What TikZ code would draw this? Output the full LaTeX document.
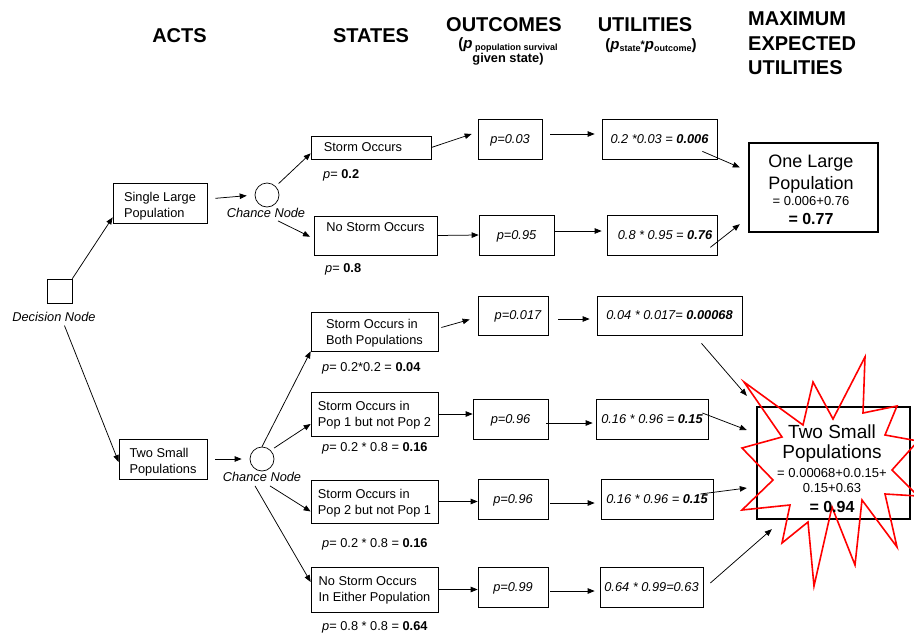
\documentclass[tikz,border=0pt]{standalone}
\usepackage{fontspec}
\setmainfont{Liberation Sans}
\usetikzlibrary{arrows.meta}

\tikzset{
  box/.style={draw, line width=0.7pt, inner sep=0pt, align=left, text depth=0pt, font=\fontsize{12.8}{16}\selectfont},
  pbox/.style={draw, line width=0.7pt, inner sep=0pt, text depth=0pt, font=\fontsize{12.8}{16}\selectfont\itshape},
  chance/.style={draw, circle, line width=0.7pt, minimum size=24pt, inner sep=0pt},
  lbl/.style={inner sep=0pt, font=\fontsize{12.8}{16}\selectfont},
  itlbl/.style={inner sep=0pt, font=\fontsize{12.8}{16}\selectfont\itshape},
  hd/.style={inner sep=0pt, font=\fontsize{20}{24.5}\selectfont\bfseries},
  hdsub/.style={inner sep=0pt, align=center, font=\fontsize{15}{13}\selectfont\bfseries},
  meu/.style={draw, line width=2.4pt, inner sep=0pt},
  meutxt/.style={inner sep=0pt, align=center},
  arr/.style={-{Triangle[length=7pt,width=5.5pt]}, line width=0.75pt},
  burst/.style={draw=red, line width=1.6pt, line join=miter},
}

\begin{document}
\begin{tikzpicture}[x=1pt,y=-1pt]
\useasboundingbox (0,0) rectangle (914,635);

	% column heads
	\node[hd] (acts) at (179.5,35.5) {ACTS};
	\node[hd] (states) at (371,35.5) {STATES};
	\node[hd] (outc) at (504,24.5) {OUTCOMES};
	\node[hdsub, anchor=north] (outcsub) at (508,37) {(\textit{p}\,\raisebox{-2.5pt}{\fontsize{9}{9}\selectfont population survival}\\{\fontsize{12.8}{13}\selectfont given state)}};
	\node[hd] (util) at (645,24.5) {UTILITIES};
	\node[hdsub, anchor=north] (utilsub) at (651,38) {(\textit{p}\raisebox{-2.5pt}{\fontsize{9}{9}\selectfont state}\raisebox{1pt}{\fontsize{11}{11}\selectfont*}\textit{p}\raisebox{-2.5pt}{\fontsize{9}{9}\selectfont outcome})};
	\node[hd, align=left, anchor=north west] (meuhd) at (748,12) {MAXIMUM\\EXPECTED\\UTILITIES};

	% decision and acts
	\node[box, minimum width=25pt, minimum height=24pt] (dec) at (59.5,291) {};
	\node[itlbl] (declbl) at (54,317) {Decision Node};
	\node[box, minimum width=94pt, minimum height=40pt] (single) at (160,203) {\rule{0pt}{13pt}Single Large\\Population};
	\node[box, minimum width=88pt, minimum height=40pt] (two) at (163,459) {\rule{0pt}{13pt}Two Small\\Populations};

	\node[chance] (c1) at (267,195) {};
	\node[itlbl] (c1lbl) at (266,213) {Chance Node};
	\node[chance] (c2) at (262,459) {};
	\node[itlbl] (c2lbl) at (262,477) {Chance Node};

	% states
	\node[pbox, font=\fontsize{12.8}{16}\selectfont, minimum width=120pt, minimum height=23pt] (s1) at (371,147.5) {Storm Occurs\hspace*{16pt}\mbox{}};
	\node[lbl, anchor=base west] (s1p) at (323,178) {\textit{p}= \textbf{0.2}};
	\node[box, minimum width=123pt, minimum height=39pt] (s2) at (375.5,235.5) {No Storm Occurs\\\mbox{}};
	\node[lbl, anchor=base west] (s2p) at (325,272) {\textit{p}= \textbf{0.8}};
	\node[box, minimum width=127pt, minimum height=39pt] (s3) at (374.5,331.5) {Storm Occurs in\\Both Populations};
	\node[lbl, anchor=base west] (s3p) at (322,371) {\textit{p}= 0.2*0.2 = \textbf{0.04}};
	\node[box, minimum width=127pt, minimum height=44pt] (s4) at (374.5,414) {Storm Occurs in\\Pop 1 but not Pop 2};
	\node[lbl, anchor=base west] (s4p) at (322,451) {\textit{p}= 0.2 * 0.8 = \textbf{0.16}};
	\node[box, minimum width=127pt, minimum height=43pt] (s5) at (374.5,501.5) {Storm Occurs in\\Pop 2 but not Pop 1};
	\node[lbl, anchor=base west] (s5p) at (322,547) {\textit{p}= 0.2 * 0.8 = \textbf{0.16}};
	\node[box, minimum width=127pt, minimum height=45pt] (s6) at (374.5,589.5) {No Storm Occurs\\In Either Population};
	\node[lbl, anchor=base west] (s6p) at (322,630) {\textit{p}= 0.8 * 0.8 = \textbf{0.64}};

	% outcomes
	\node[pbox, minimum width=64pt, minimum height=40pt] (o1) at (510,139) {p=0.03};
	\node[pbox, minimum width=75pt, minimum height=40pt] (o2) at (516.5,235) {p=0.95};
	\node[pbox, minimum width=70pt, minimum height=39pt] (o3) at (513,315.5) {\hspace{10pt}p=0.017};
	\node[pbox, minimum width=75pt, minimum height=40pt] (o4) at (510.5,419) {p=0.96};
	\node[pbox, minimum width=70pt, minimum height=40pt] (o5) at (513,499) {p=0.96};
	\node[pbox, minimum width=70pt, minimum height=40pt] (o6) at (513,587) {p=0.99};

	% utilities
	\node[pbox, minimum width=115pt, minimum height=40pt] (u1) at (659.5,139) {0.2 *0.03 = \textbf{0.006}};
	\node[pbox, minimum width=110pt, minimum height=40pt] (u2) at (662,235) {\hspace{6pt}0.8 * 0.95 = \textbf{0.76}};
	\node[pbox, minimum width=145pt, minimum height=39pt] (u3) at (669.5,315.5) {0.04 * 0.017= \textbf{0.00068}};
	\node[pbox, minimum width=112pt, minimum height=40pt] (u4) at (652,419) {0.16 * 0.96 = \textbf{0.15}};
	\node[pbox, minimum width=112pt, minimum height=40pt] (u5) at (657,499) {0.16 * 0.96 = \textbf{0.15}};
	\node[pbox, minimum width=103pt, minimum height=40pt] (u6) at (651.5,587) {0.64 * 0.99=0.63};

	% maximum expected utilities
	\node[meu, minimum width=129pt, minimum height=89pt] (meu1) at (813.5,187.5) {};
	\node[meutxt, anchor=north, font=\fontsize{18}{22.5}\selectfont] (meu1txt) at (811,154.5) {One Large\\Population\\[-6.5pt]{\fontsize{13}{15}\selectfont = 0.006+0.76}\\[-3.5pt]{\fontsize{16}{18}\selectfont\bfseries = 0.77}};
	\node[meu, minimum width=153pt, minimum height=112pt] (meu2) at (833.5,463) {};
	\begin{scope}
		\clip (0,0) rectangle (914,635);
		\draw[burst] (744,382) -- (803,425) -- (813,382) -- (833,419) -- (865,357) -- (863,413)
			-- (897,406) -- (885,435) -- (918,441) -- (892,470) -- (918,496) -- (885,494)
			-- (897,547) -- (862,500) -- (855,565) -- (832,507) -- (814,586) -- (808,522)
			-- (782,543) -- (790,505) -- (742,510) -- (773,480) -- (742,448) -- (782,437) -- cycle;
	\end{scope}
	\node[meutxt, anchor=north, font=\fontsize{19}{20}\selectfont] (meu2txt) at (832,425) {Two Small\\Populations\\[-1pt]{\fontsize{13}{15}\selectfont = 0.00068+0.0.15+}\\[-5pt]{\fontsize{13}{15}\selectfont 0.15+0.63}\\{\fontsize{16}{18}\selectfont\bfseries = 0.94}};

	% acts and chance branches
	\draw[arr] (dec.north east) to ([yshift=6pt]single.south west);
	\draw[arr, shorten <=4pt] ([xshift=9pt]declbl.south) to ([yshift=-3pt]two.west);
	\draw[arr, shorten <=8pt, shorten >=8pt] ([yshift=4pt]single.east) to (c1.west);
	\draw[arr, shorten <=8pt, shorten >=8pt] (two.east) to (c2.west);
	\draw[arr, shorten <=4pt] (c1.north east) to ([yshift=6pt]s1.south west);
	\draw[arr, shorten >=4pt] ([xshift=12pt,yshift=-3pt]c1lbl.south) to ([yshift=-3pt]s2.west);
	\draw[arr] (c2.north) to (s3.south west);
	\draw[arr, shorten <=4pt] (c2.north east) to ([yshift=-10pt]s4.west);
	\draw[arr] ([xshift=8pt,yshift=-4pt]c2lbl.south) to ([yshift=-10pt]s5.west);
	\draw[arr] ([xshift=-7pt,yshift=-4pt]c2lbl.south) to ([yshift=7.5pt]s6.west);

	% states to outcomes to utilities
	\draw[arr] (s1.east) to ([xshift=-6pt,yshift=5pt]o1.west);
	\draw[arr] (s2.east) to (o2.west);
	\draw[arr, shorten <=8pt, shorten >=7pt] ([yshift=5pt]o1.east) to ([yshift=5pt]u1.west);
	\draw[arr, shorten >=5pt] ([yshift=4pt]o2.east) to ([yshift=4pt]u2.west);
	\draw[arr] ([xshift=3pt,yshift=4pt]s3.east) to ([xshift=-8pt,yshift=-4pt]o3.west);
	\draw[arr, shorten <=10pt, shorten >=7pt] ([yshift=-3.5pt]o3.east) to ([yshift=-3.5pt]u3.west);
	\draw[arr] (s4.east) to (o4.west |- s4.east);
	\draw[arr, shorten <=-2pt, shorten >=3pt] ([yshift=-4pt]o4.east) to ([yshift=-4pt]u4.west);
	\draw[arr] (s5.east) to (o5.west |- s5.east);
	\draw[arr, shorten <=2pt, shorten >=6pt] ([yshift=-4pt]o5.east) to ([yshift=-4pt]u5.west);
	\draw[arr] (s6.east) to (o6.west |- s6.east);
	\draw[arr, shorten <=2pt, shorten >=5pt] ([yshift=-4pt]o6.east) to ([yshift=-4pt]u6.west);

	% utilities to maximum expected utilities
	\draw[arr] ([xshift=-15pt,yshift=8pt]u1.south east) to ([xshift=-8pt,yshift=20pt]meu1.west);
	\draw[arr] ([xshift=-7pt,yshift=8pt]u2.south east) to ([xshift=-8pt,yshift=9pt]meu1.south west);
	\draw[arr] ([xshift=32pt,yshift=-8pt]u3.south) to ([xshift=-9pt,yshift=10pt]meu2.north west);
	\draw[arr] ([xshift=-6pt,yshift=6pt]u4.east) to ([xshift=-9pt,yshift=33pt]meu2.west);
	\draw[arr] ([xshift=-13pt,yshift=5pt]u5.east) to ([xshift=-9pt,yshift=-25pt]meu2.west);
	\draw[arr] ([xshift=7pt,yshift=4pt]u6.east) to ([xshift=16pt,yshift=-9pt]meu2.south west);
\end{tikzpicture}
\end{document}
